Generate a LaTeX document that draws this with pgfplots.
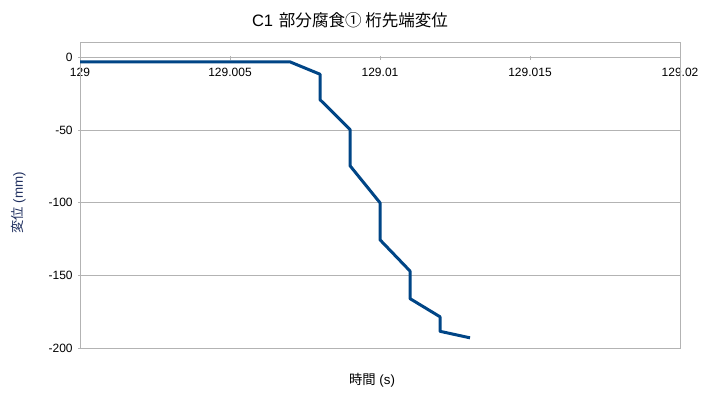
\documentclass[border=0pt]{standalone}
\usepackage{fontspec}
\setmainfont{Liberation Sans}
\newfontfamily\cjk{Noto Sans CJK JP}
\usepackage{pgfplots}
\pgfplotsset{compat=1.18}
\definecolor{serie}{HTML}{004586}
\definecolor{gridgray}{HTML}{B3B3B3}
\definecolor{ylab}{HTML}{1F2F5F}
% time is stored as milliseconds after 129 s
\begin{document}
\begin{tikzpicture}
\useasboundingbox (0,0) rectangle (527.25pt,297pt);
\begin{axis}[
  at={(60pt,36pt)}, anchor=south west,
  width=450pt, height=228.75pt, scale only axis,
  xmin=0, xmax=20, ymin=-200, ymax=10,
  axis x line*=middle, axis y line*=left,
  hide obscured x ticks=false,
  axis line style={gridgray, line width=0.75pt},
  xtick={0,5,10,15,20},
  xticklabels={129,129.005,129.01,129.015,129.02},
  ytick={-200,-150,-100,-50,0},
  yticklabels={-200,-150,-100,-50,0},
  ymajorgrids, major grid style={gridgray, line width=0.75pt},
  tick style={gridgray, line width=0.75pt},
  major tick length=3pt,
  x tick style={yshift=-1.5pt},
  y tick style={xshift=-1.5pt},
  xticklabel style={font=\fontsize{9pt}{11pt}\selectfont, yshift=-4.5pt},
  yticklabel style={font=\fontsize{9pt}{11pt}\selectfont, xshift=-2pt},
  clip=false,
]
\draw[gridgray, line width=0.75pt] (rel axis cs:0,0) rectangle (rel axis cs:1,1);
\addplot[serie, line width=2.25pt, line join=round] coordinates {
 (0,-3) (7,-3) (8,-11.5) (8,-29) (9,-49.5) (9,-74.5) (10,-100)
 (10,-125.5) (11,-147) (11,-166) (12,-178.5) (12,-188.5) (13,-193)
};
\end{axis}
\node[font=\fontsize{12.4pt}{15pt}\selectfont] at (262.5pt,282pt) {C1\hspace{0.35em}{\cjk 部分腐食① 桁先端変位}};
\node[font=\fontsize{10pt}{12pt}\selectfont] at (279pt,12pt) {{\cjk 時間} (s)};
\node[font=\fontsize{10pt}{12pt}\selectfont, rotate=90, text=ylab] at (14pt,144.75pt) {{\cjk 変位} (mm)};
\end{tikzpicture}
\end{document}
